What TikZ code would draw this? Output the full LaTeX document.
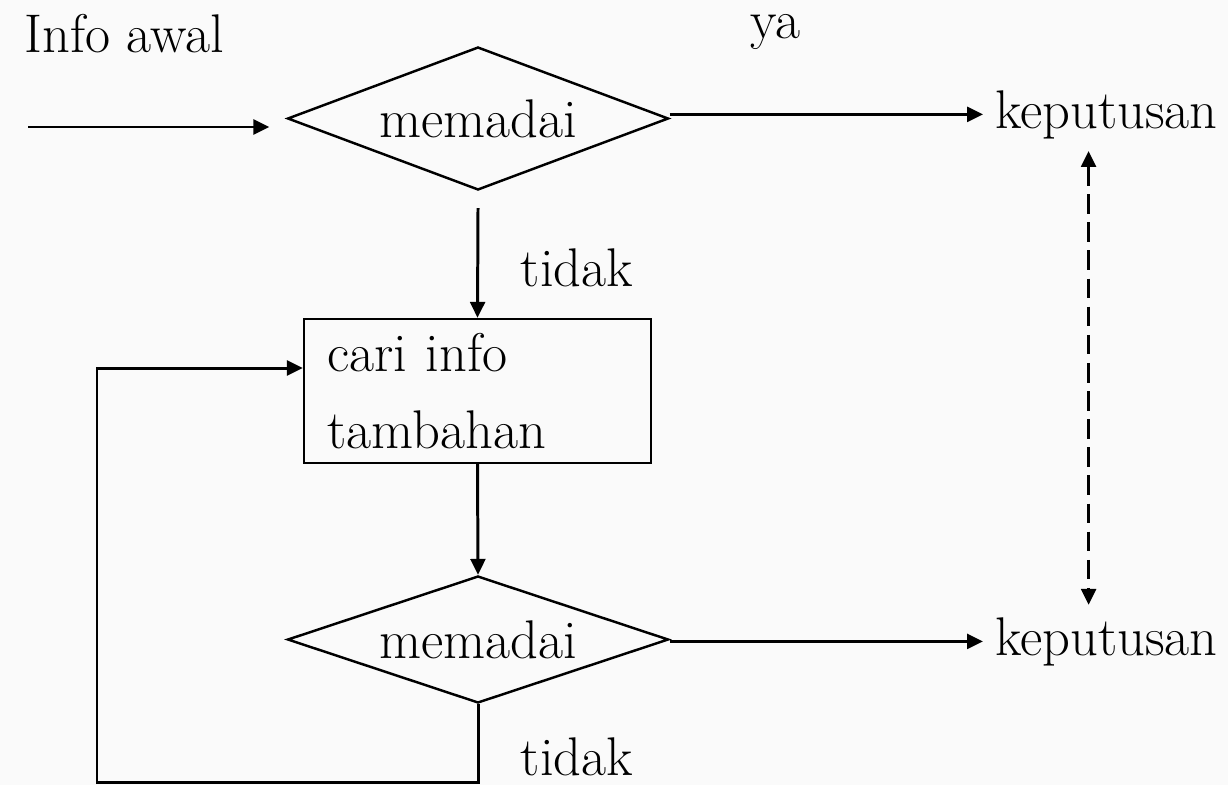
\documentclass[tikz,border=0pt]{standalone}
\usepackage{fontspec}
\usepackage{tikz}
\usetikzlibrary{arrows.meta,positioning,calc,shapes.geometric}

\begin{document}
\begin{tikzpicture}[
    every node/.style={font=\fontsize{15.5}{18}\selectfont},
    arr/.style={line width=0.85pt, -{Triangle[length=4.5pt,width=4.2pt]}},
    decision/.style={draw, line width=0.7pt, shape=diamond, inner sep=0pt,
      shape aspect=2.66, minimum width=3.81cm},
    process/.style={draw, line width=0.7pt, rectangle, minimum width=3.47cm,
      minimum height=1.44cm, text width=3.0cm, align=left, inner xsep=0.235cm,
      font=\fontsize{15.5}{22}\selectfont}
  ]
    \useasboundingbox (0,0) rectangle (12.28,-7.85);
    \fill[black!2] (0,0) rectangle (12.28,-7.85);
    % first test
    \node[anchor=base west] (info) at (0.12,-0.52) {Info awal};
    \coordinate (in) at (0.28,-1.27);
    \node[decision, minimum height=1.43cm] (dec1) at (4.78,-1.185) {memadai};
    \draw[arr, shorten >=0.17cm] (in) -- (in -| dec1.west);
    \node[anchor=base west] (kep1) at (9.83,-1.28) {keputusan};
    \node[anchor=base, inner sep=1pt] (ya) at (7.75,-0.38) {ya};
    \draw[arr] (dec1.east |- kep1.west) -- (kep1.west);
    % search for more info
    \node[process] (box) at (4.775,-3.91) {cari info\\tambahan};
    \draw[arr] ([yshift=-0.17cm]dec1.south) -- (box.north);
    \node (tidak1) at (5.77,-2.68) {tidak};
    % second test
    \node[decision, minimum height=1.27cm] (dec2) at (4.78,-6.395) {memadai};
    \draw[arr] (box.south) -- (dec2.north);
    \node[anchor=base west] (kep2) at (9.83,-6.55) {keputusan};
    \draw[arr] (dec2.east |- kep2.west) -- (kep2.west);
    % loop back
    \coordinate (back) at (0.97,-7.82);
    \draw[arr] (dec2.south) |- (back) |- ([yshift=0.23cm]box.west);
    \node (tidak2) at (5.77,-7.57) {tidak};
    % link between the two decisions
    \draw[line width=0.85pt, dash pattern=on 5.6pt off 2.4pt,
      {Triangle[length=4.5pt,width=4.2pt]}-{Triangle[length=4.5pt,width=4.2pt]}]
      ([xshift=-0.18cm]kep1.south) -- ([xshift=-0.18cm]kep2.north);
\end{tikzpicture}
\end{document}
